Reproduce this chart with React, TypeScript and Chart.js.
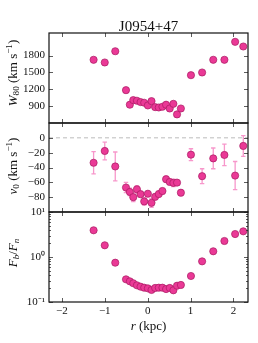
import React, { useEffect, useRef } from 'react';
import { Chart, registerables } from 'chart.js';

Chart.register(...registerables);

// ---- data ----
const rKpc = [-1.26, -1.0, -0.755, -0.505, -0.415, -0.335, -0.25, -0.165, -0.08, 0.005, 0.09, 0.175, 0.26, 0.345, 0.43, 0.515, 0.6, 0.685, 0.775, 1.01, 1.27, 1.53, 1.79, 2.04, 2.23];
const w80 = [1724, 1676, 1876, 1184, 925, 1007, 996, 972, 960, 912, 989, 882, 876, 889, 925, 858, 941, 753, 858, 1450, 1498, 1724, 1724, 2043, 1960];
const v0 = [-33.6, -17.7, -38.6, -67, -73, -80, -69.4, -76, -85.7, -75.4, -87.6, -79.5, -75.8, -71.7, -55.8, -59.5, -60.8, -60.4, -74, -22.7, -51.7, -27.7, -23.1, -50.9, -10.9];
const v0Err = [15, 12, 19.5, 7, 5, 6, 5, 4, 5, 4, 6, 4, 4, 4, 4, 3, 5, 3, 4, 8, 10, 14, 14.5, 19, 14];
const fbFn = [3.92, 1.82, 0.747, 0.319, 0.288, 0.261, 0.235, 0.219, 0.208, 0.201, 0.185, 0.205, 0.208, 0.208, 0.194, 0.205, 0.182, 0.23, 0.239, 0.378, 0.8, 1.34, 2.27, 3.24, 3.72];

const rTicks = [-2, -1, 0, 1, 2];
const wTicks = [900, 1200, 1500, 1800];
const vTicks = [-80, -60, -40, -20, 0];
const fTicks = [0.1, 1, 10];
const fTickLabels = ['10\u207B\u00B9', '10\u2070', '10\u00B9'];
const fMinorTicks = [0.2, 0.3, 0.4, 0.5, 0.6, 0.7, 0.8, 0.9, 2, 3, 4, 5, 6, 7, 8, 9];

const titleText = 'J0954+47';

// ---- layout / style ----
const W = 258;
const H = 343;
const LEFT = 49;
const RIGHT = 248;
const PANELS: [number, number][] = [[33, 123], [123, 212], [212, 302]];
const FONT = "'Liberation Serif', 'Times New Roman', serif";
const PINK = '#ea3996';
const PINK_EDGE = '#a81a62';
const ERR = 'rgba(245,125,190,0.8)';

const minus = (v: number) => (v < 0 ? '\u2212' + Math.abs(v) : String(v));

function framePlugin(panel: number) {
  return {
    id: 'frame' + panel,
    beforeDatasetsDraw(chart: any) {
      const ctx = chart.ctx;
      const xs = chart.scales.x;
      const ys = chart.scales.y;
      const a = chart.chartArea;
      ctx.save();
      if (panel === 1) {
        const y0 = ys.getPixelForValue(0);
        ctx.strokeStyle = '#bbbbbb';
        ctx.lineWidth = 1;
        ctx.setLineDash([4, 3]);
        ctx.beginPath();
        ctx.moveTo(a.left, y0);
        ctx.lineTo(a.right, y0);
        ctx.stroke();
        ctx.setLineDash([]);
        ctx.strokeStyle = ERR;
        ctx.lineWidth = 1.3;
        for (let i = 0; i < rKpc.length; i++) {
          const x = xs.getPixelForValue(rKpc[i]);
          const yTop = ys.getPixelForValue(v0[i] + v0Err[i]);
          const yBot = ys.getPixelForValue(v0[i] - v0Err[i]);
          ctx.beginPath();
          ctx.moveTo(x, yTop);
          ctx.lineTo(x, yBot);
          ctx.moveTo(x - 2.2, yTop);
          ctx.lineTo(x + 2.2, yTop);
          ctx.moveTo(x - 2.2, yBot);
          ctx.lineTo(x + 2.2, yBot);
          ctx.stroke();
        }
      }
      ctx.restore();
    },
    afterDraw(chart: any) {
      const ctx = chart.ctx;
      const xs = chart.scales.x;
      const ys = chart.scales.y;
      const a = chart.chartArea;
      ctx.save();
      ctx.strokeStyle = '#333';
      ctx.lineWidth = 0.8;
      ctx.beginPath();
      for (const t of rTicks) {
        const x = Math.round(xs.getPixelForValue(t)) + 0.5;
        ctx.moveTo(x, a.top);
        ctx.lineTo(x, a.top + 4);
        ctx.moveTo(x, a.bottom);
        ctx.lineTo(x, a.bottom - 4);
      }
      const yt = panel === 0 ? wTicks : panel === 1 ? vTicks : fTicks;
      for (const t of yt) {
        const y = Math.round(ys.getPixelForValue(t)) + 0.5;
        ctx.moveTo(a.left, y);
        ctx.lineTo(a.left + 4, y);
        ctx.moveTo(a.right, y);
        ctx.lineTo(a.right - 4, y);
      }
      if (panel === 2) {
        for (const t of fMinorTicks) {
          const y = Math.round(ys.getPixelForValue(t)) + 0.5;
          ctx.moveTo(a.left, y);
          ctx.lineTo(a.left + 2, y);
          ctx.moveTo(a.right, y);
          ctx.lineTo(a.right - 2, y);
        }
      }
      ctx.stroke();
      ctx.strokeStyle = '#111';
      ctx.lineWidth = 1.2;
      ctx.strokeRect(a.left, a.top, a.right - a.left, a.bottom - a.top);
      ctx.restore();
    },
  };
}

function makeConfig(panel: number): any {
  const [top, bottom] = PANELS[panel];
  const values = panel === 0 ? w80 : panel === 1 ? v0 : fbFn;
  const yTicks = panel === 0 ? wTicks : panel === 1 ? vTicks : fTicks;
  const isLast = panel === 2;
  const yScale: any = {
    type: panel === 2 ? 'logarithmic' : 'linear',
    min: panel === 0 ? 600 : panel === 1 ? -100 : 0.1,
    max: panel === 0 ? 2200 : panel === 1 ? 20 : 10,
    grid: { display: false, drawTicks: false },
    border: { display: false },
    afterFit: (s: any) => {
      s.width = LEFT;
    },
    afterBuildTicks: (s: any) => {
      s.ticks = yTicks.map((v) => ({ value: v }));
    },
    ticks: {
      autoSkip: false,
      padding: 4,
      color: '#111',
      font: { family: FONT, size: 11 },
      callback: (v: number) => {
        if (panel === 2) {
          const i = fTicks.findIndex((t) => Math.abs(t - v) < 1e-9);
          return i >= 0 ? fTickLabels[i] : '';
        }
        return minus(v);
      },
    },
  };
  const xScale: any = {
    type: 'linear',
    min: -2.3,
    max: 2.34,
    display: isLast,
    grid: { display: false, drawTicks: false },
    border: { display: false },
    afterFit: (s: any) => {
      s.height = isLast ? H - bottom : 0;
    },
    afterBuildTicks: (s: any) => {
      s.ticks = rTicks.map((v) => ({ value: v }));
    },
    ticks: {
      autoSkip: false,
      maxRotation: 0,
      padding: 3,
      color: '#111',
      font: { family: FONT, size: 11 },
      callback: (v: number) => minus(v),
    },
  };
  return {
    type: 'scatter',
    data: {
      datasets: [
        {
          data: rKpc.map((r, i) => ({ x: r, y: values[i] })),
          backgroundColor: PINK,
          borderColor: PINK_EDGE,
          borderWidth: 0.7,
          pointRadius: 3.6,
          clip: false,
        },
      ],
    },
    options: {
      responsive: false,
      animation: false,
      devicePixelRatio: 1,
      layout: {
        padding: {
          top,
          bottom: isLast ? 0 : H - bottom,
          left: 0,
          right: W - RIGHT,
        },
      },
      plugins: { legend: { display: false }, tooltip: { enabled: false } },
      events: [],
      scales: { x: xScale, y: yScale },
    },
    plugins: [framePlugin(panel)],
  };
}

const canvasStyle: React.CSSProperties = { position: 'absolute', left: 0, top: 0 };
const subStyle: React.CSSProperties = { fontSize: '0.7em', verticalAlign: '-0.25em', lineHeight: 0 };
const supStyle: React.CSSProperties = { fontSize: '0.7em', verticalAlign: '0.5em', lineHeight: 0 };

function rotLabel(x: number, y: number, content: React.ReactNode) {
  return (
    <div
      style={{
        position: 'absolute',
        left: x,
        top: y,
        transform: 'translate(-50%, -50%) rotate(-90deg)',
        whiteSpace: 'nowrap',
        fontFamily: FONT,
        fontSize: 13,
        lineHeight: 1,
        color: '#111',
      }}
    >
      {content}
    </div>
  );
}

export default function App() {
  const r1 = useRef<HTMLCanvasElement>(null);
  const r2 = useRef<HTMLCanvasElement>(null);
  const r3 = useRef<HTMLCanvasElement>(null);

  useEffect(() => {
    document.body.style.margin = '0';
    const refs = [r1, r2, r3];
    const charts = refs.map((r, i) => new Chart(r.current as HTMLCanvasElement, makeConfig(i)));
    return () => charts.forEach((c) => c.destroy());
  }, []);

  return (
    <div style={{ position: 'relative', width: W, height: H, background: '#fff', overflow: 'hidden' }}>
      <canvas ref={r1} width={W} height={H} style={canvasStyle} />
      <canvas ref={r2} width={W} height={H} style={canvasStyle} />
      <canvas ref={r3} width={W} height={H} style={canvasStyle} />
      <div
        style={{
          position: 'absolute',
          left: (LEFT + RIGHT) / 2,
          top: 26,
          transform: 'translate(-50%, -50%)',
          fontFamily: FONT,
          fontSize: 15,
          lineHeight: 1,
          whiteSpace: 'nowrap',
          color: '#111',
        }}
      >
        {titleText}
      </div>
      {rotLabel(
        12,
        73,
        <>
          <i>W</i>
          <span style={subStyle}>80</span> (km s<span style={supStyle}>{'\u2212'}1</span>)
        </>
      )}
      {rotLabel(
        12,
        166,
        <>
          <i>v</i>
          <span style={subStyle}>0</span> (km s<span style={supStyle}>{'\u2212'}1</span>)
        </>
      )}
      {rotLabel(
        12,
        253,
        <>
          <i>F</i>
          <span style={subStyle}>
            <i>b</i>
          </span>
          /<i>F</i>
          <span style={subStyle}>
            <i>n</i>
          </span>
        </>
      )}
      <div
        style={{
          position: 'absolute',
          left: (LEFT + RIGHT) / 2,
          top: 325,
          transform: 'translate(-50%, -50%)',
          fontFamily: FONT,
          fontSize: 13,
          lineHeight: 1,
          whiteSpace: 'nowrap',
          color: '#111',
        }}
      >
        <i>r</i> (kpc)
      </div>
    </div>
  );
}
